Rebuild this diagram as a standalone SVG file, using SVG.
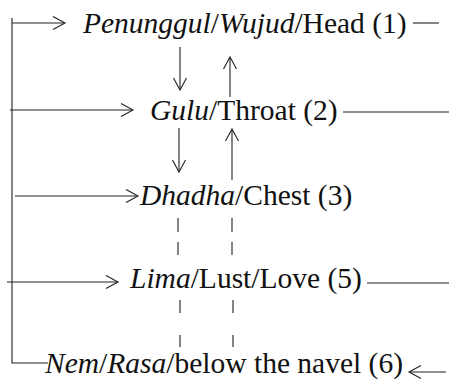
<svg xmlns="http://www.w3.org/2000/svg" width="449" height="379" viewBox="0 0 449 379">
<style>
text{font-family:'Liberation Serif','DejaVu Serif',serif;font-size:29.5px;fill:#111}
.i{font-style:italic}
.ln{stroke:#222;stroke-width:1.1;fill:none}
</style>
<defs>
<marker id="ah" markerUnits="userSpaceOnUse" markerWidth="16" markerHeight="16" viewBox="-14 -8 16 16" refX="0" refY="0" orient="auto">
<path d="M-12,-6.5 L0,0 L-12,6.5" fill="none" stroke="#222" stroke-width="1.1"/>
</marker>
</defs>
<g id="connectors">
<path class="ln" d="M12,18 V363 H48"/>
<path class="ln" d="M12,23 H65" marker-end="url(#ah)"/>
<path class="ln" d="M10,110 H133" marker-end="url(#ah)"/>
<path class="ln" d="M15,196 H138" marker-end="url(#ah)"/>
<path class="ln" d="M7,282 H118" marker-end="url(#ah)"/>
<path class="ln" d="M413,23 H439"/>
<path class="ln" d="M343,112 H449"/>
<path class="ln" d="M367,283 H449"/>
<path class="ln" d="M446,372 H409" marker-end="url(#ah)"/>
<path class="ln" d="M180,47 V90" marker-end="url(#ah)"/>
<path class="ln" d="M230,97 V57" marker-end="url(#ah)"/>
<path class="ln" d="M179,128 V172" marker-end="url(#ah)"/>
<path class="ln" d="M232,180 V129" marker-end="url(#ah)"/>
<path class="ln" d="M178,218 V232 M178,242 V255 M180,300 V313 M180,335 V347"/>
<path class="ln" d="M232,218 V232 M232,242 V255 M233,300 V313 M233,335 V347"/>
</g>
<g id="n1"><text x="83" y="33" font-family="Liberation Serif"><tspan class="i">Penunggul</tspan>/<tspan class="i">Wujud</tspan>/Head (1)</text></g>
<g id="n2"><text x="150" y="120" font-family="Liberation Serif"><tspan class="i">Gulu</tspan>/Throat (2)</text></g>
<g id="n3"><text x="140" y="205" font-family="Liberation Serif"><tspan class="i">Dhadha</tspan>/Chest (3)</text></g>
<g id="n5"><text x="130" y="288" font-family="Liberation Serif"><tspan class="i">Lima</tspan>/Lust/Love (5)</text></g>
<g id="n6"><text x="45" y="373" font-family="Liberation Serif"><tspan class="i">Nem</tspan>/<tspan class="i">Rasa</tspan>/below the navel (6)</text></g>
</svg>
